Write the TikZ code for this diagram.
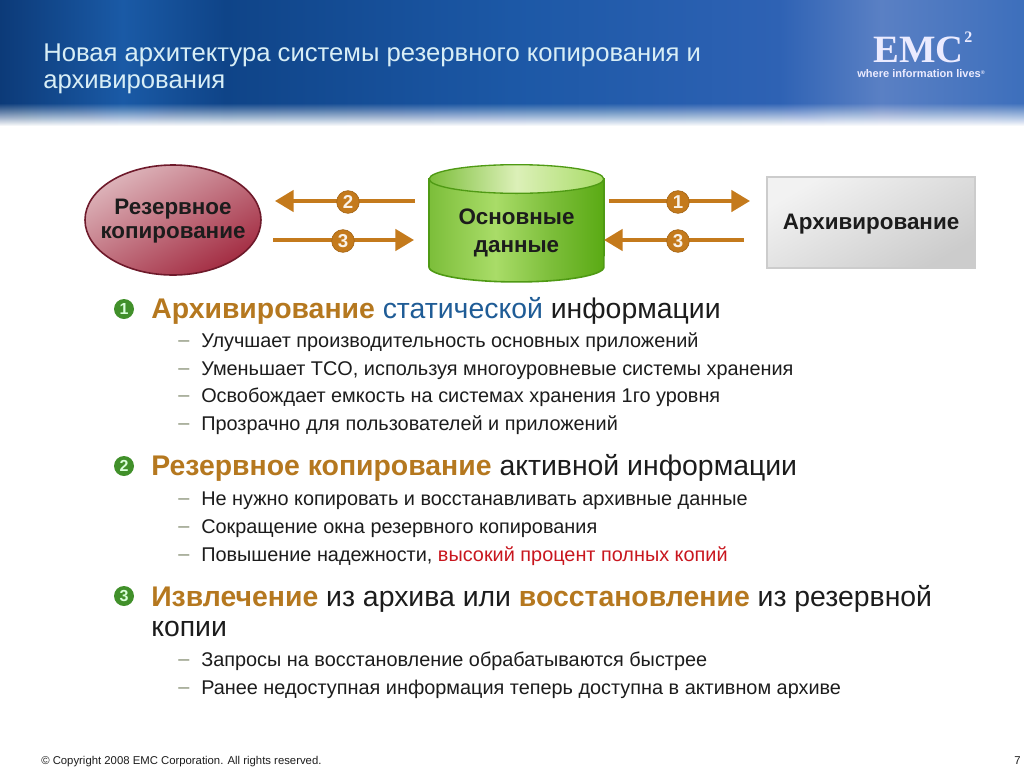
\documentclass[tikz,border=0pt]{standalone}
\usepackage{fontspec}
\usepackage{xcolor}
\usepackage{tikz}
\usetikzlibrary{positioning,arrows.meta,shapes.geometric}
\setmainfont{Liberation Sans}
\newfontfamily\logofont{Liberation Serif}
\definecolor{ambercol}{HTML}{C47A1C}
\definecolor{headcol}{HTML}{B5781F}
\definecolor{bluecol}{HTML}{1F5C96}
\definecolor{redcol}{HTML}{C8161E}
\definecolor{textcol}{HTML}{1C1C1C}
\definecolor{dashcol}{HTML}{8B9379}
\definecolor{bulletcol}{HTML}{41902A}
\definecolor{titlecol}{HTML}{D8EEF6}
\definecolor{navya}{HTML}{0C3A78}
\definecolor{navyb}{HTML}{1A5AA6}
\definecolor{navyc}{HTML}{0F4488}
\definecolor{navyd}{HTML}{1C58A6}
\definecolor{navye}{HTML}{2E62B4}
\definecolor{navyf}{HTML}{5A80C4}
\definecolor{navyg}{HTML}{3D6FBC}
\definecolor{cylleft}{HTML}{7CBE3A}
\definecolor{cylmid}{HTML}{A9DC68}
\definecolor{cylright}{HTML}{5AAA14}
\definecolor{cyledge}{HTML}{4F9A14}
\definecolor{capmid}{HTML}{DCF0B8}
\definecolor{pinklight}{HTML}{DDB4BA}
\definecolor{pinkdark}{HTML}{A32C42}
\definecolor{pinkedge}{HTML}{6E1A2B}
\pgfdeclarehorizontalshading{headshade}{100bp}{color(0bp)=(navya); color(25bp)=(navya); color(31bp)=(navyb); color(36bp)=(navyc); color(50bp)=(navyd); color(63bp)=(navye); color(68bp)=(navyf); color(75bp)=(navyg); color(100bp)=(navyg)}
\pgfdeclarehorizontalshading{cylshade}{100bp}{color(0bp)=(cylleft); color(25bp)=(cylleft); color(44bp)=(cylmid); color(60bp)=(cylleft); color(75bp)=(cylright); color(100bp)=(cylright)}
\pgfdeclarehorizontalshading{capshade}{100bp}{color(0bp)=(cylleft); color(25bp)=(cylleft); color(50bp)=(capmid); color(75bp)=(cylmid); color(100bp)=(cylmid)}
\tikzset{
  flowtext/.style  = {align=center, text=textcol, font=\bfseries\fontsize{16.8}{21}\selectfont},
  archive/.style   = {draw=black!20, line width=1.5pt, minimum width=156pt, minimum height=68pt,
                      left color=black!5, right color=black!20, shading angle=30, flowtext,
                      text height=10.5pt, text depth=0pt},
  backup/.style    = {ellipse, draw=pinkedge, line width=1.2pt, minimum width=132pt, minimum height=82.5pt,
                      inner sep=0pt, left color=pinklight, right color=pinkdark, shading angle=30},
  arrow/.style     = {-{Triangle[length=14pt,width=16pt]}, ambercol, line width=2.8pt},
  badge/.style     = {circle, fill=ambercol, draw=ambercol!85!black, line width=0.5pt, minimum size=17pt, inner sep=0pt,
                      text=white!90!ambercol, font=\bfseries\fontsize{14}{14}\selectfont},
  bulletmark/.style= {circle, fill=bulletcol, minimum size=15pt, inner sep=0pt,
                      text=white!85!green, font=\bfseries\fontsize{12}{12}\selectfont},
  heading/.style   = {anchor=base west, inner sep=0pt, text=textcol, font=\fontsize{21.3}{21.3}\selectfont},
  dashmark/.style  = {text=dashcol, inner sep=0pt, yshift=-1.5pt, font=\fontsize{14.9}{14.9}\selectfont},
  subitem/.style   = {anchor=base west, inner sep=0pt, text=textcol, text height=11pt, text depth=3pt,
                      font=\fontsize{14.9}{14.9}\selectfont, label={[dashmark,label distance=8.5pt]left:–}},
  titleline/.style = {anchor=base west, inner sep=0pt, text=titlecol, font=\fontsize{19.25}{19.25}\selectfont},
  logotext/.style  = {anchor=base west, inner sep=0pt, text=white!92!blue, text depth=0pt},
  small/.style     = {anchor=base west, inner sep=0pt, text=textcol, font=\fontsize{8.5}{8.5}\selectfont},
}
\begin{document}
\begin{tikzpicture}[x=0.75pt,y=-0.75pt]
  \useasboundingbox (0,0) rectangle (1024,768);
  % header band
  \fill[shading=headshade] (0,0) rectangle (1024,127);
  \foreach \y in {104,105,...,126} {
    \pgfmathsetmacro{\fadeval}{1/(127-\y)}
    \fill[white,opacity=\fadeval] (0,\y) rectangle (1024,127.5);
  }
  \node[titleline] (title1) at (43,61) {Новая архитектура системы резервного копирования и};
  \node[titleline] (title2) at (43,88) {архивирования};
  \node[logotext, font=\logofont\bfseries\fontsize{29}{29}\selectfont] (logo) at (873,62) {EMC};
  \node[logotext, font=\logofont\bfseries\fontsize{12}{12}\selectfont] (logotwo) at (964,42) {2};
  \node[logotext, text height=6pt, font=\bfseries\fontsize{8.3}{8.3}\selectfont] (slogan) at (857,77) {where information lives\raisebox{2pt}{\fontsize{4}{4}\selectfont ®}};

  % top diagram
  \node[backup] (backup) at (173,220) {};
  \node[flowtext, font=\bfseries\fontsize{16.8}{18}\selectfont] (backuptext) at (173,221) {Резервное\\копирование};
  \draw[draw=cyledge, line width=1.2pt, shading=cylshade] (429,179) -- (429,267)
    arc[start angle=180, end angle=360, x radius=65.6pt, y radius=11.2pt] -- (604,179) -- cycle;
  \node[ellipse, draw=cyledge, line width=1pt, shading=capshade, minimum width=131pt, minimum height=21.5pt, inner sep=0pt] (datacap) at (516.5,179) {};
  \node[flowtext] (data) at (516.5,232.5) {Основные\\данные};
  \node[archive] (archive) at (871,222.5) {Архивирование};

  \coordinate (b2a) at (415,201); \coordinate (b2b) at (275,201);
  \coordinate (b3a) at (273,240); \coordinate (b3b) at (414,240);
  \coordinate (a1a) at (609,201); \coordinate (a1b) at (750,201);
  \coordinate (a3a) at (744,240); \coordinate (a3b) at (604,240);
  \draw[arrow] (b2a) -- (b2b); \draw[arrow] (b3a) -- (b3b);
  \draw[arrow] (a1a) -- (a1b); \draw[arrow] (a3a) -- (a3b);
  \node[badge] (badge2) at (348,202) {2};
  \node[badge] (badge3l) at (343,241) {3};
  \node[badge] (badge1) at (678,202) {1};
  \node[badge] (badge3r) at (678,241) {3};

  % first group
  \node[bulletmark] (bullet1) at (124,309) {1};
  \node[heading] (head1) at (151,318) {\textcolor{headcol}{\bfseries Архивирование} \textcolor{bluecol}{статической} информации};
  \node[subitem] (item1a) at (201,347) {Улучшает производительность основных приложений};
  \node[subitem] (item1b) at (201,375) {Уменьшает TCO, используя многоуровневые системы хранения};
  \node[subitem] (item1c) at (201,402) {Освобождает емкость на системах хранения 1го уровня};
  \node[subitem] (item1d) at (201,430) {Прозрачно для пользователей и приложений};

  % second group
  \node[bulletmark] (bullet2) at (124,466) {2};
  \node[heading] (head2) at (151,475) {\textcolor{headcol}{\bfseries Резервное копирование} активной информации};
  \node[subitem] (item2a) at (201,505) {Не нужно копировать и восстанавливать архивные данные};
  \node[subitem] (item2b) at (201,533) {Сокращение окна резервного копирования};
  \node[subitem] (item2c) at (201,561) {Повышение надежности, \textcolor{redcol}{высокий процент полных копий}};

  % third group
  \node[bulletmark] (bullet3) at (124,596) {3};
  \node[heading] (head3) at (151,606) {\textcolor{headcol}{\bfseries Извлечение} из архива или \textcolor{headcol}{\bfseries восстановление} из резервной};
  \node[heading] (head3b) at (151,636) {копии};
  \node[subitem] (item3a) at (201,666) {Запросы на восстановление обрабатываются быстрее};
  \node[subitem] (item3b) at (201,694) {Ранее недоступная информация теперь доступна в активном архиве};

  \node[small] (copyright) at (41,764) {© Copyright 2008 EMC Corporation. All rights reserved.};
  \node[small] (pagenum) at (1014,764) {7};
\end{tikzpicture}
\end{document}
